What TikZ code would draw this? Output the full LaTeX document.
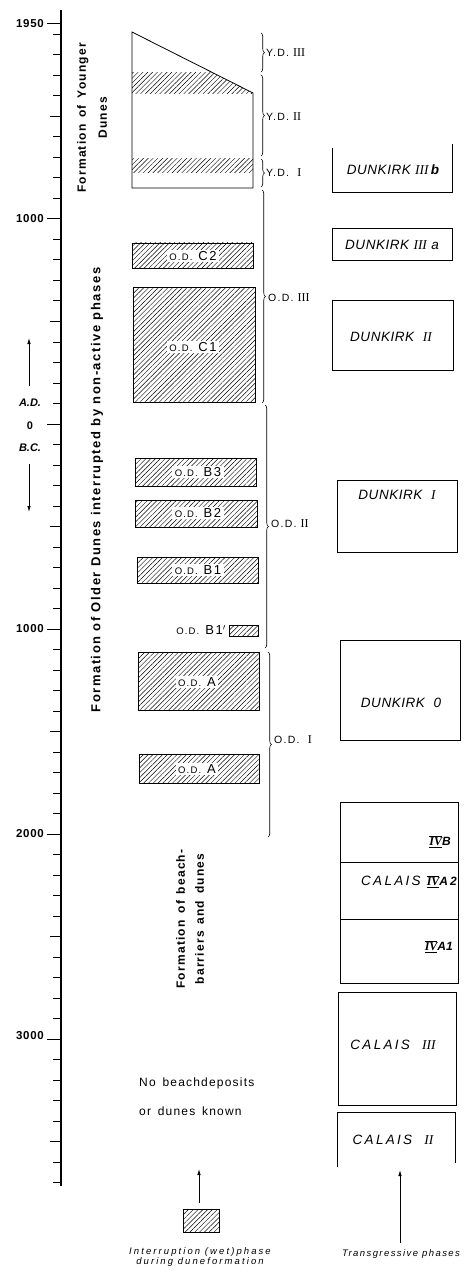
\documentclass[tikz,border=0pt]{standalone}
\usepackage{fontspec}
\setmainfont{Liberation Sans}
\newfontfamily\rotf[LetterSpace=10,WordSpace=3]{Liberation Sans}
\newfontfamily\rotg[LetterSpace=12,WordSpace=4.5]{Liberation Sans}
\newfontfamily\numf[LetterSpace=6]{Liberation Sans}
\newfontfamily\romf{Liberation Serif}
\newfontfamily\labf[LetterSpace=12]{Liberation Sans}
\newfontfamily\dunkf[LetterSpace=4]{Liberation Sans}
\newfontfamily\calf[LetterSpace=17]{Liberation Sans}
\newfontfamily\capf[LetterSpace=22]{Liberation Sans}
\newfontfamily\trf[LetterSpace=15]{Liberation Sans}
\newfontfamily\nof[LetterSpace=10,WordSpace=1.5]{Liberation Sans}
\usetikzlibrary{patterns.meta,decorations.pathreplacing,arrows.meta}
\newcommand{\odl}[1]{{\labf\fontsize{9.5}{10}\selectfont O.D.}\hspace{6pt}{\labf\fontsize{13}{13}\selectfont #1}}
\newcommand{\ivn}{$\overline{\underline{\hbox{\romf\bfseries IV}}}$}
\begin{document}
\begin{tikzpicture}[x=1pt,y=-1pt,
  hatch/.style={pattern={Lines[angle=45,distance=3.4pt,line width=0.45pt]}},
  hatchbox/.style={draw,line width=0.6pt,hatch},
  plainbox/.style={draw,line width=0.7pt},
  tick/.style={line width=1pt},
  odlab/.style={fill=white,inner xsep=2.5pt,inner ysep=1.5pt},
  ydlab/.style={anchor=west,inner sep=1pt,font=\labf\fontsize{10.5}{11}\selectfont},
  numlab/.style={anchor=east,inner sep=0pt,font=\numf\bfseries\fontsize{11.5}{12}\selectfont},
  rotlab/.style={rotate=90,align=center,font=\rotf\bfseries\fontsize{12}{21}\selectfont},
  dunk/.style={font=\dunkf\itshape\fontsize{13.5}{14}\selectfont},
  cal/.style={font=\calf\itshape\fontsize{13.5}{14}\selectfont},
  brc/.style={decorate,decoration={brace,amplitude=3.5pt},line width=0.6pt},
  arr/.style={-{Latex[length=6pt,width=3.5pt]},line width=0.8pt}]
\useasboundingbox (0,0) rectangle (464,1273);

% ---- time axis ----
\draw[line width=1.4pt] (61,10) -- (61,1186);
\draw[tick] (47,24) -- (61,24);
\foreach \yr in {1900,1800,...,-3700}{
  \pgfmathsetmacro\yy{424-0.205*\yr}
  \pgfmathsetmacro\tl{ifthenelse(mod(\yr,1000)==0,14,ifthenelse(mod(\yr,500)==0,11,8))}
  \draw[tick] ({61-\tl},\yy) -- (61,\yy);
}
\node[numlab] (l1950) at (44,24) {1950};
\node[numlab] (l1000a) at (44,219) {1000};
\node[numlab] (l1000b) at (44,629) {1000};
\node[numlab] (l2000) at (44,834) {2000};
\node[numlab] (l3000) at (44,1036) {3000};
\node[font=\bfseries\itshape\fontsize{11}{12}\selectfont,inner sep=0pt] (ad) at (30,403) {A.D.};
\node[font=\bfseries\fontsize{11}{12}\selectfont,inner sep=0pt] (zero) at (30,426) {0};
\node[font=\bfseries\itshape\fontsize{11}{12}\selectfont,inner sep=0pt] (bc) at (30,448) {B.C.};
\coordinate (adu) at (29,338);
\coordinate (bcd) at (29,512);
\draw[arr] (29,386) -- (adu);
\draw[arr] (29,464) -- (bcd);

% ---- rotated captions ----
\node[rotlab] (yd) at (92,118) {Formation of Younger\\Dunes};
\node[rotlab,font=\rotg\bfseries\fontsize{13}{21}\selectfont] (od) at (97,490) {Formation of Older Dunes interrupted by non-active phases};
\node[rotlab,font=\rotf\bfseries\fontsize{12}{19}\selectfont] (bb) at (190,919) {Formation of beach-\\barriers and dunes};
\node[anchor=west,inner sep=0pt,font=\nof\fontsize{12}{13}\selectfont] (nob1) at (139,1083) {No beachdeposits};
\node[anchor=west,inner sep=0pt,font=\nof\fontsize{12}{13}\selectfont] (nob2) at (139,1111) {or dunes known};

% ---- younger dunes ----
\begin{scope}
  \clip (132,32) -- (253,93) -- (253,188) -- (132,188) -- cycle;
  \fill[hatch] (132,73) rectangle (253,94);
  \fill[hatch] (132,159) rectangle (253,173);
\end{scope}
\draw[line width=0.8pt] (132,32) -- (253,93) -- (253,188) -- (132,188) -- cycle;

% ---- braces ----
\draw[brc] (261,33) -- (261,72);
\node[ydlab] (yd3) at (265,53) {Y.D. {\romf\fontsize{12}{12}\selectfont III}};
\draw[brc] (261,75) -- (261,156);
\node[ydlab] (yd2) at (265,117) {Y.D. {\romf\fontsize{12}{12}\selectfont II}};
\draw[brc] (261,159) -- (261,187);
\node[ydlab] (yd1) at (265,173) {Y.D.\ \ {\romf\fontsize{12}{12}\selectfont I}};
\draw[brc] (262,190) -- (262,403);
\node[ydlab] (od3) at (267,298) {O.D. {\romf\fontsize{12}{12}\selectfont III}};
\draw[brc] (265,405) -- (265,648);
\node[ydlab] (od2) at (270,524) {O.D. {\romf\fontsize{12}{12}\selectfont II}};
\draw[brc] (268,652) -- (268,837);
\node[ydlab] (od1) at (273,740) {O.D.\ \ {\romf\fontsize{12}{12}\selectfont I}};

% ---- older dunes interruptions ----
\draw[hatchbox] (132,243) rectangle (253,268);
\node[odlab] (c2) at (193,256) {\odl{C2}};
\draw[hatchbox] (133,287) rectangle (255,402);
\node[odlab] (c1) at (193,347) {\odl{C1}};
\draw[hatchbox] (135,458) rectangle (256,486);
\node[odlab] (b3) at (198,472) {\odl{B3}};
\draw[hatchbox] (135,500) rectangle (257,527);
\node[odlab] (b2) at (198,513) {\odl{B2}};
\draw[hatchbox] (137,557) rectangle (258,583);
\node[odlab] (b1) at (198,570) {\odl{B1}};
\draw[hatchbox] (229,625) rectangle (258,636);
\node[anchor=east,inner sep=1pt] (b1p) at (227,630) {\odl{B1$^{\prime}$}};
\draw[hatchbox] (138,652) rectangle (259,710);
\node[odlab] (a1) at (197,682) {\odl{A}};
\draw[hatchbox] (139,754) rectangle (259,783);
\node[odlab] (a2) at (197,769) {\odl{A}};

% ---- transgressive phases ----
\draw[plainbox] (332,148) -- (332,192) -- (452,192) -- (452,144);
\node[dunk] (d3b) at (393,170) {DUNKIRK {\romf\itshape III}\,{\bfseries b}};
\draw[plainbox] (332,228) rectangle (452,260);
\node[dunk] (d3a) at (392,245) {DUNKIRK {\romf\itshape III} a};
\draw[plainbox] (332,300) rectangle (453,370);
\node[dunk] (d2) at (391,337) {DUNKIRK\ \ {\romf\itshape II}};
\draw[plainbox] (337,480) rectangle (457,552);
\node[dunk] (d1) at (397,495) {DUNKIRK\ \ {\romf\itshape I}};
\draw[plainbox] (340,640) rectangle (460,740);
\node[dunk] (d0) at (401,703) {DUNKIRK\ \ 0};
\draw[plainbox] (340,802) rectangle (458,983);
\draw[plainbox] (340,862) -- (458,862);
\draw[plainbox] (340,919) -- (458,919);
\node[anchor=east,inner sep=0pt,font=\bfseries\itshape\fontsize{12}{13}\selectfont] (c4b) at (451,842) {\ivn B};
\node[cal,anchor=east,inner sep=0pt] (c4a2) at (457,882) {CALAIS {\upshape\bfseries\itshape\fontsize{12}{13}\selectfont \ivn A2}};
\node[anchor=east,inner sep=0pt,font=\bfseries\itshape\fontsize{12}{13}\selectfont] (c4a1) at (453,947) {\ivn A1};
\draw[plainbox] (338,992) rectangle (456,1105);
\node[cal] (c3) at (393,1045) {CALAIS\ \ {\romf\itshape III}};
\draw[plainbox] (337,1167) -- (337,1112) -- (455,1112) -- (455,1163);
\node[cal] (c2b) at (393,1140) {CALAIS\ \ {\romf\itshape II}};

% ---- legend ----
\draw[hatchbox] (183,1209) rectangle (219,1232);
\coordinate (legtop) at (199,1169);
\draw[arr] (199,1203) -- (legtop);
\node[align=center,inner sep=0pt,font=\capf\itshape\fontsize{9.5}{10}\selectfont] (cap) at (200,1257) {Interruption (wet)phase\\during duneformation};
\coordinate (trtop) at (400,1170);
\draw[arr] (400,1243) -- (trtop);
\node[inner sep=0pt,font=\trf\itshape\fontsize{9.5}{10}\selectfont] (tr) at (401,1254) {Transgressive phases};
\end{tikzpicture}
\end{document}
